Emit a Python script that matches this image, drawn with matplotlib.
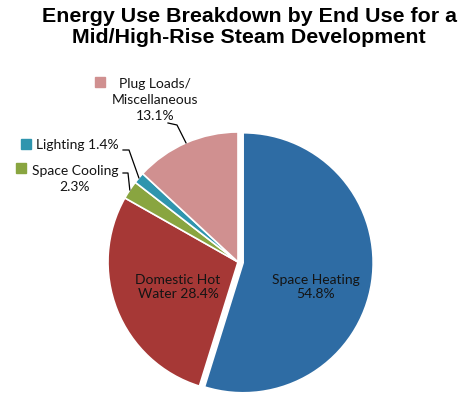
import numpy as np
import matplotlib
matplotlib.use('Agg')
import matplotlib.pyplot as plt

# data
categories = ['Space Heating', 'Domestic Hot Water', 'Space Cooling', 'Lighting', 'Plug Loads/ Miscellaneous']
shares = [54.8, 28.4, 2.3, 1.4, 13.1]
colors = ['#2E6CA4', '#A63836', '#89A540', '#2F95AE', '#D09090']

title = 'Energy Use Breakdown by End Use for a\nMid/High-Rise Steam Development'

W, H = 465, 396
CX, CY, R = 238, 262, 130   # pie centre and radius in pixels


def px(x, y):
    # pixel position -> pie data coords
    return (x - CX) / R, (CY - y) / R


fig = plt.figure(figsize=(W / 100, H / 100), dpi=100)
ax = fig.add_axes([(CX - R) / W, (H - CY - R) / H, 2 * R / W, 2 * R / H])

explode = [0.04, 0, 0, 0, 0]
wedges, _ = ax.pie(shares, colors=colors, startangle=90, counterclock=False,
                   explode=explode, radius=1,
                   wedgeprops=dict(edgecolor='white', linewidth=1.2))
for w in wedges:
    w.set_clip_on(False)
ax.set_xlim(-1, 1)
ax.set_ylim(-1, 1)
ax.set_aspect('equal')
ax.axis('off')

font = dict(family='Lato', fontsize=10, color='#141414')
lab = ['%s\n%.1f%%' % ('Space Heating', shares[0]),
       'Domestic Hot\nWater %.1f%%' % shares[1],
       'Space Cooling\n%.1f%%' % shares[2],
       'Lighting %.1f%%' % shares[3],
       'Plug Loads/\nMiscellaneous\n%.1f%%' % shares[4]]

# inside labels
ax.text(*px(316, 287), lab[0], ha='center', va='center', linespacing=1.28, **font)
ax.text(*px(178, 287), lab[1], ha='center', va='center', linespacing=1.28, **font)

# outside labels: text pos, square pos, leader start, elbow
outside = {
    2: dict(text=(75, 179), sq=(20.5, 167.5), start=(123, 173), elbow=(128, 173)),
    3: dict(text=(77, 145), sq=(25.5, 144), start=(123, 150), elbow=(129, 150)),
    4: dict(text=(155, 100), sq=(99.5, 82), start=(168, 123), elbow=(177, 125)),
}
for i, o in outside.items():
    ax.text(*px(*o['text']), lab[i], ha='center', va='center', linespacing=1.4, **font)
    ax.plot(*px(*o['sq']), marker='s', markersize=7, color=colors[i], clip_on=False)
    w = wedges[i]
    mid = np.deg2rad((w.theta1 + w.theta2) / 2)
    ex, ey = np.cos(mid), np.sin(mid)
    sx, sy = px(*o['start'])
    bx, by = px(*o['elbow'])
    ax.plot([sx, bx, ex], [sy, by, ey], color='black', lw=0.9, clip_on=False)

fig.text(249 / W, 1 - 7 / H, title, ha='center', va='top', fontsize=15.4,
         fontweight='bold', family='Liberation Sans', linespacing=1.12)

fig.savefig('out.png', dpi=100, facecolor='white')
